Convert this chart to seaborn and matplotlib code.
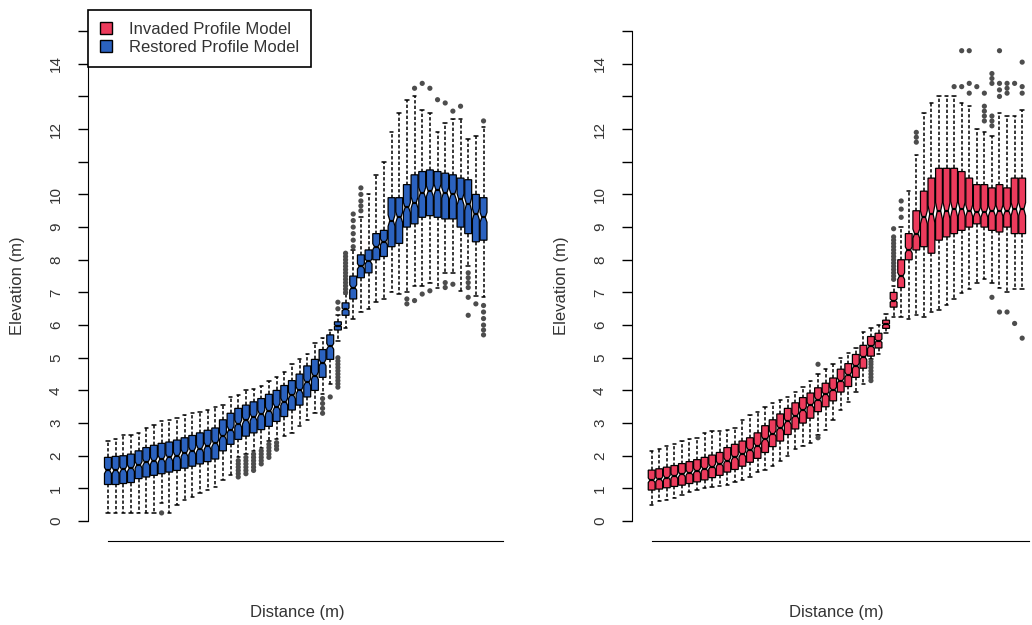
import pandas as pd
import matplotlib
matplotlib.use("Agg")
import matplotlib.pyplot as plt
from matplotlib.patches import Patch
import seaborn as sns

# Restored profile model (left panel): whisker low, Q1, median, Q3, whisker high per distance step
restored_lo = [0.25, 0.25, 0.25, 0.25, 0.25, 0.25, 0.25, 0.55, 0.25, 0.50,
               0.65, 0.75, 0.85, 0.95, 1.05, 1.25, 1.40, 1.95, 2.05, 2.15,
               2.25, 2.45, 2.50, 2.60, 2.70, 2.90, 3.10, 3.30, 3.90, 4.20,
               5.50, 5.90, 6.20, 6.40, 6.50, 6.70, 6.80, 7.00, 6.95, 7.00,
               7.20, 7.20, 7.30, 7.15, 7.60, 7.60, 7.05, 7.80, 6.90, 6.85]
restored_q1 = [1.12, 1.12, 1.15, 1.18, 1.30, 1.35, 1.40, 1.45, 1.50, 1.55,
               1.62, 1.68, 1.75, 1.82, 1.90, 2.15, 2.35, 2.50, 2.60, 2.70,
               2.80, 2.90, 3.05, 3.20, 3.40, 3.55, 3.80, 4.00, 4.40, 4.95,
               5.85, 6.30, 6.80, 7.45, 7.60, 8.00, 8.10, 8.40, 8.50, 9.00,
               9.10, 9.30, 9.35, 9.30, 9.25, 9.25, 9.00, 8.80, 8.55, 8.60]
restored_med = [1.55, 1.55, 1.58, 1.62, 1.72, 1.80, 1.85, 1.90, 1.95, 2.00,
                2.08, 2.15, 2.22, 2.30, 2.38, 2.60, 2.80, 2.98, 3.08, 3.18,
                3.28, 3.38, 3.50, 3.65, 3.85, 4.00, 4.25, 4.45, 4.85, 5.35,
                5.98, 6.48, 7.15, 7.80, 7.95, 8.40, 8.55, 9.20, 9.30, 9.60,
                9.75, 10.05, 10.10, 10.15, 10.05, 10.00, 9.85, 9.70, 9.40, 9.30]
restored_q3 = [1.95, 1.98, 2.00, 2.05, 2.15, 2.25, 2.32, 2.38, 2.42, 2.48,
               2.55, 2.62, 2.70, 2.78, 2.85, 3.10, 3.30, 3.45, 3.55, 3.65,
               3.75, 3.88, 4.00, 4.15, 4.30, 4.50, 4.75, 4.95, 5.25, 5.70,
               6.10, 6.68, 7.50, 8.15, 8.30, 8.80, 8.90, 9.90, 9.90, 10.30,
               10.60, 10.70, 10.75, 10.70, 10.65, 10.60, 10.50, 10.45, 10.00, 9.90]
restored_hi = [2.45, 2.50, 2.62, 2.65, 2.70, 2.85, 2.95, 3.05, 3.10, 3.15,
               3.25, 3.30, 3.35, 3.40, 3.50, 3.55, 3.80, 3.85, 4.00, 4.05,
               4.15, 4.30, 4.40, 4.55, 4.80, 4.95, 5.10, 5.45, 5.60, 5.85,
               6.30, 6.95, 8.30, 9.30, 10.00, 10.60, 11.00, 11.90, 12.50, 12.90,
               13.00, 12.60, 12.50, 11.90, 12.20, 12.30, 12.30, 11.70, 11.80, 12.05]
restored_out_pos = [7,
                    17, 17, 17, 17, 17, 17, 18, 18, 18, 18, 18, 18,
                    19, 19, 19, 19, 19, 19, 20, 20, 20, 20, 20,
                    21, 21, 21, 21, 21, 22, 22, 22,
                    28, 28, 28, 28, 29,
                    30, 30, 30, 30, 30, 30, 30, 30, 30, 30, 30, 30,
                    31, 31, 31, 31, 31, 31, 31, 31, 31, 31, 31, 31, 31,
                    32, 32, 32, 32, 32, 32, 33, 33, 33, 33, 33,
                    40, 41, 42, 43, 44, 45, 46, 49,
                    39, 39, 40, 41, 42, 44, 44, 45,
                    47, 47, 47, 47, 47, 47, 48, 49, 49, 49, 49, 49, 49]
restored_out_val = [0.25,
                    1.35, 1.45, 1.55, 1.65, 1.75, 1.85, 1.45, 1.55, 1.65, 1.75, 1.85, 1.95,
                    1.55, 1.65, 1.75, 1.85, 1.95, 2.05, 1.75, 1.85, 1.95, 2.05, 2.15,
                    1.95, 2.05, 2.15, 2.25, 2.35, 2.20, 2.30, 2.40,
                    3.30, 3.45, 3.60, 3.75, 3.80,
                    4.1, 4.2, 4.3, 4.4, 4.5, 4.6, 4.7, 4.8, 4.9, 5.0, 6.5, 6.7,
                    7.0, 7.1, 7.2, 7.3, 7.4, 7.5, 7.6, 7.7, 7.8, 7.9, 8.0, 8.1, 8.2,
                    8.4, 8.6, 8.8, 9.0, 9.2, 9.4, 9.5, 9.65, 9.8, 10.0, 10.2,
                    13.25, 13.4, 13.25, 12.9, 12.8, 12.55, 12.7, 12.25,
                    6.65, 6.8, 6.75, 6.95, 7.05, 7.15, 7.3, 7.25,
                    7.6, 7.45, 7.3, 7.15, 6.85, 6.3, 6.65, 6.6, 6.4, 6.2, 6.0, 5.85, 5.7]

# Invaded profile model (right panel)
invaded_lo = [0.50, 0.60, 0.65, 0.72, 0.80, 0.88, 0.95, 1.00, 1.05, 1.08,
              1.10, 1.20, 1.25, 1.35, 1.50, 1.55, 1.70, 1.85, 2.00, 2.20,
              2.30, 2.40, 2.65, 2.80, 3.10, 3.40, 3.65, 3.95, 4.20, 4.95,
              5.10, 5.75, 6.25, 6.25, 6.20, 6.30, 6.25, 6.40, 6.45, 6.60,
              6.80, 6.97, 7.10, 7.30, 7.40, 7.30, 7.15, 7.00, 7.10, 7.10]
invaded_q1 = [0.95, 0.98, 1.02, 1.06, 1.10, 1.15, 1.20, 1.26, 1.33, 1.40,
              1.50, 1.58, 1.68, 1.80, 1.92, 2.10, 2.28, 2.45, 2.65, 2.82,
              3.00, 3.15, 3.35, 3.50, 3.68, 3.95, 4.12, 4.40, 4.68, 5.05,
              5.30, 5.90, 6.55, 7.15, 8.00, 8.30, 8.40, 8.20, 8.60, 8.70,
              8.80, 8.90, 9.00, 9.10, 9.00, 8.90, 8.85, 9.00, 8.80, 8.80]
invaded_med = [1.25, 1.28, 1.33, 1.38, 1.43, 1.48, 1.54, 1.60, 1.67, 1.75,
               1.85, 1.95, 2.05, 2.18, 2.30, 2.50, 2.68, 2.85, 3.05, 3.22,
               3.40, 3.55, 3.72, 3.88, 4.02, 4.30, 4.48, 4.75, 5.02, 5.35,
               5.52, 6.02, 6.75, 7.50, 8.30, 8.80, 9.30, 9.40, 9.50, 9.50,
               9.55, 9.55, 9.50, 9.45, 9.45, 9.50, 9.50, 9.50, 9.55, 9.55]
invaded_q3 = [1.56, 1.60, 1.65, 1.70, 1.76, 1.82, 1.88, 1.95, 2.02, 2.10,
              2.25, 2.35, 2.45, 2.55, 2.70, 2.92, 3.10, 3.28, 3.45, 3.62,
              3.78, 3.92, 4.08, 4.22, 4.38, 4.65, 4.82, 5.10, 5.38, 5.65,
              5.75, 6.15, 7.00, 8.00, 8.80, 9.50, 10.10, 10.50, 10.80, 10.80,
              10.80, 10.70, 10.50, 10.30, 10.30, 10.20, 10.30, 10.20, 10.50, 10.50]
invaded_hi = [2.15, 2.20, 2.30, 2.35, 2.45, 2.50, 2.55, 2.70, 2.75, 2.75,
              2.80, 2.85, 3.10, 3.25, 3.35, 3.50, 3.60, 3.70, 3.80, 3.95,
              4.10, 4.30, 4.50, 4.65, 4.80, 5.00, 5.15, 5.30, 5.80, 5.90,
              6.00, 6.35, 7.20, 9.00, 10.10, 11.20, 12.50, 12.80, 13.00, 13.00,
              13.00, 12.80, 12.70, 12.00, 11.90, 11.80, 12.50, 12.40, 12.40, 12.60]
invaded_out_pos = [22, 22,
                   29, 29, 29, 29, 29, 29, 29,
                   32, 32, 32, 32, 32, 32, 32, 32, 32, 32, 32, 32, 32, 32, 32,
                   33, 33, 33, 35, 35, 35,
                   40, 41, 41, 42, 42, 42, 43,
                   44, 44, 44, 44, 44, 45, 45, 45, 45, 45, 45, 45,
                   46, 46, 46, 46, 46, 47, 47, 47, 47, 48, 48, 49, 49, 49, 49]
invaded_out_val = [4.80, 2.55,
                   4.30, 4.40, 4.50, 4.60, 4.70, 4.80, 4.88,
                   7.4, 7.5, 7.6, 7.7, 7.8, 7.9, 8.0, 8.1, 8.2, 8.3, 8.4, 8.5, 8.6, 8.7, 8.95,
                   9.30, 9.55, 9.80, 11.60, 11.75, 11.90,
                   13.30, 14.40, 13.30, 14.40, 13.40, 13.10, 13.30,
                   13.10, 12.70, 12.55, 12.40, 12.25, 13.70, 13.55, 13.40, 12.40, 12.25, 12.10, 6.85,
                   14.40, 13.40, 13.20, 13.00, 6.40, 13.40, 13.25, 13.10, 6.40, 13.40, 6.05,
                   14.05, 13.30, 13.10, 5.60]

y_ticks = list(range(16))
y_tick_labels = ["0", "1", "2", "3", "4", "5", "6", "7", "8", "9", "10",
                 "", "12", "", "14", ""]

RED = "#ec3b5c"
BLUE = "#2b62bf"
TEXT = "#333333"


def box_table(lo, q1, med, q3, hi):
    # rebuild a sample whose quartiles and extremes are the values
    rows = []
    for i in range(len(med)):
        vals = [lo[i]] + [q1[i]] * 60 + [med[i]] * 59 + [q3[i]] * 60 + [hi[i]]
        rows += [(i, v) for v in vals]
    return pd.DataFrame(rows, columns=["step", "elevation"])


def draw_panel(ax, df, out_pos, out_val, color, x_right, x_end):
    sns.boxplot(data=df, x="step", y="elevation", ax=ax, color=color,
                saturation=1, width=0.9, whis=(0, 100), fliersize=0,
                linecolor="black", linewidth=0.9, shownotches=True,
                whiskerprops=dict(linestyle=(0, (2.2, 1.4)), linewidth=1.1),
                capprops=dict(linewidth=1.1),
                medianprops=dict(linewidth=1.6, color="black"))
    sns.scatterplot(x=out_pos, y=out_val, ax=ax, color="0.3", s=14,
                    edgecolor="none", legend=False, zorder=3)

    ax.set_xlim(-2.6, x_right)
    ax.set_ylim(-0.61, 15.34)
    ax.set_xticks([])
    ax.set_yticks(y_ticks)
    ax.set_yticklabels(y_tick_labels, rotation=90, va="center")
    ax.tick_params(axis="y", length=7, width=1, pad=11, labelsize=11,
                   color="black", labelcolor=TEXT)
    for side in ["top", "right"]:
        ax.spines[side].set_visible(False)
    ax.spines["left"].set_bounds(0, 15)
    ax.spines["bottom"].set_bounds(0, x_end)
    ax.spines["left"].set_color("black")
    ax.spines["bottom"].set_color("black")

    ax.set_ylabel("Elevation (m)", fontsize=12, color=TEXT)
    ax.set_xlabel("Distance (m)", fontsize=12, color=TEXT)


sns.set_style("ticks")
plt.rcParams["font.family"] = ["Liberation Sans", "DejaVu Sans"]

fig = plt.figure(figsize=(10.32, 6.25), dpi=100)
ax1 = fig.add_axes([88 / 1032, 84 / 625, 417 / 1032, 521 / 625])
ax2 = fig.add_axes([632 / 1032, 84 / 625, 400 / 1032, 521 / 625])

restored = box_table(restored_lo, restored_q1, restored_med, restored_q3, restored_hi)
invaded = box_table(invaded_lo, invaded_q1, invaded_med, invaded_q3, invaded_hi)

draw_panel(ax1, restored, restored_out_pos, restored_out_val, BLUE, 51.8, 51.5)
draw_panel(ax2, invaded, invaded_out_pos, invaded_out_val, RED, 50.3, 49.9)

ax1.yaxis.set_label_coords(-0.151, 0.491)
ax1.xaxis.set_label_coords(0.501, -0.123)
ax2.yaxis.set_label_coords(-0.158, 0.491)
ax2.xaxis.set_label_coords(0.51, -0.123)

handles = [Patch(facecolor=RED, edgecolor="black", label="Invaded Profile Model"),
           Patch(facecolor=BLUE, edgecolor="black", label="Restored Profile Model")]
leg = fig.legend(handles=handles, loc="upper left",
                 bbox_to_anchor=(88 / 1032, 1 - 10 / 625), borderaxespad=0,
                 fontsize=12, frameon=True, fancybox=False, framealpha=1,
                 edgecolor="black", handlelength=0.75, handleheight=0.75,
                 handletextpad=1.0, borderpad=0.7, labelspacing=0.2)
leg.get_frame().set_linewidth(1.2)
for t in leg.get_texts():
    t.set_color(TEXT)

fig.savefig("out.png", dpi=100)
